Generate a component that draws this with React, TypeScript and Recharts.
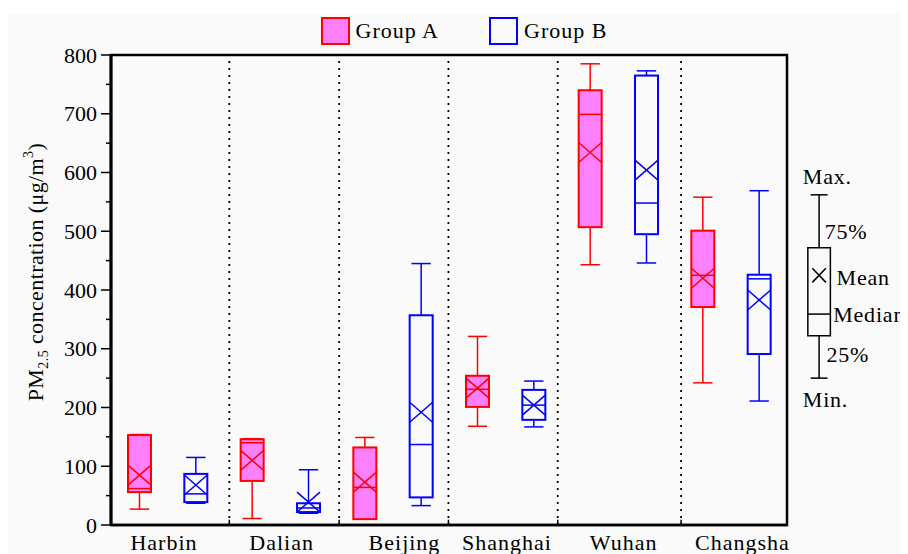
import { ComposedChart, Bar, XAxis, YAxis, ReferenceLine, ReferenceArea, ReferenceDot, Legend } from "recharts";

const cities = ["Harbin", "Dalian", "Beijing", "Shanghai", "Wuhan", "Changsha"];

// Group A (filled boxes)
const groupAMin = [27, 11, 10, 168, 443, 242];
const groupAQ1 = [56, 75, 10, 201, 507, 371];
const groupAMedian = [62, 140, 64, 231, 699, 425];
const groupAQ3 = [153, 146, 132, 254, 740, 501];
const groupAMax = [154, 147, 149, 321, 785, 558];
const groupAMean = [85, 110, 73, 233, 634, 420];

// Group B (open boxes)
const groupBMin = [37, 20, 33, 167, 446, 211];
const groupBQ1 = [39, 22, 47, 179, 495, 291];
const groupBMedian = [53, 29, 137, 204, 548, 419];
const groupBQ3 = [87, 37, 357, 230, 765, 426];
const groupBMax = [115, 94, 445, 245, 773, 569];
const groupBMean = [68, 39, 192, 204, 604, 383];

const groupNames = ["Group A", "Group B"];
const yTicks = [0, 50, 100, 150, 200, 250, 300, 350, 400, 450, 500, 550, 600, 650, 700, 750, 800];
const dividerPositions = [2.6, 4.55, 6.49, 8.43, 10.62];
const cityLabelPositions = [1.44, 3.53, 5.71, 7.53, 9.6, 11.71];

// explanatory key on the right
const keyValues = { min: 250, q1: 322, median: 359, q3: 472, max: 562, mean: 425 };

const FONT = "'Liberation Serif', 'Times New Roman', serif";
const A_STROKE = "#ff0000";
const A_FILL = "#ff80ff";
const B_STROKE = "#0000ff";

const data = cities.flatMap((city, i) => [
  {
    pos: i * 2 + 1,
    group: "A",
    range: [groupAMin[i], groupAMax[i]],
    min: groupAMin[i],
    q1: groupAQ1[i],
    median: groupAMedian[i],
    q3: groupAQ3[i],
    max: groupAMax[i],
    mean: groupAMean[i],
  },
  {
    pos: i * 2 + 2,
    group: "B",
    range: [groupBMin[i], groupBMax[i]],
    min: groupBMin[i],
    q1: groupBQ1[i],
    median: groupBMedian[i],
    q3: groupBQ3[i],
    max: groupBMax[i],
    mean: groupBMean[i],
  },
]);

function BoxShape(props: any) {
  const { x, width, payload } = props;
  let { y, height } = props;
  if (height < 0) {
    y = y + height;
    height = -height;
  }
  const { min, max, q1, median, q3, mean, group } = payload;
  const toY = (v: number) => (max === min ? y : y + ((max - v) / (max - min)) * height);
  const color = group === "A" ? A_STROKE : B_STROKE;
  const fill = group === "A" ? A_FILL : "none";
  const cx = x + width / 2;
  const cap = width * 0.42;
  const yMax = toY(max);
  const yMin = toY(min);
  const yQ1 = toY(q1);
  const yQ3 = toY(q3);
  const yMed = toY(median);
  const yMean = toY(mean);
  const xh = 10;
  return (
    <g>
      <line x1={cx} x2={cx} y1={yMax} y2={yQ3} stroke={color} strokeWidth={1.5} />
      <line x1={cx} x2={cx} y1={yQ1} y2={yMin} stroke={color} strokeWidth={1.5} />
      <line x1={cx - cap} x2={cx + cap} y1={yMax} y2={yMax} stroke={color} strokeWidth={1.5} />
      <line x1={cx - cap} x2={cx + cap} y1={yMin} y2={yMin} stroke={color} strokeWidth={1.5} />
      <rect x={x} y={yQ3} width={width} height={Math.max(yQ1 - yQ3, 0.5)} fill={fill} stroke={color} strokeWidth={2} />
      <line x1={x} x2={x + width} y1={yMed} y2={yMed} stroke={color} strokeWidth={1.5} />
      <line x1={x} x2={x + width} y1={yMean - xh} y2={yMean + xh} stroke={color} strokeWidth={1.5} />
      <line x1={x} x2={x + width} y1={yMean + xh} y2={yMean - xh} stroke={color} strokeWidth={1.5} />
    </g>
  );
}

function YTick(props: any) {
  const { x, y, payload } = props;
  const major = payload.value % 100 === 0;
  return (
    <g>
      <line x1={major ? x + 4 : x + 9} x2={x + 14} y1={y} y2={y} stroke="#000" strokeWidth={1.5} />
      {major && (
        <text x={x} y={y} dy="0.35em" textAnchor="end" fontFamily={FONT} fontSize={22} fill="#000">
          {payload.value}
        </text>
      )}
    </g>
  );
}

function YLabel(props: any) {
  const vb = props.viewBox || { x: 10, y: 42, width: 93, height: 470 };
  const cx = vb.x + 25;
  const cy = vb.y + vb.height / 2 - 18;
  return (
    <text x={cx} y={cy} transform={`rotate(-90, ${cx}, ${cy})`} textAnchor="middle" fontFamily={FONT} fontSize={22} fill="#000" letterSpacing={0.4}>
      PM
      <tspan fontSize={14} dy={5}>2.5</tspan>
      <tspan dy={-5}>{"  concentration (μg/m"}</tspan>
      <tspan fontSize={14} dy={-10}>3</tspan>
      <tspan dy={10}>)</tspan>
    </text>
  );
}

function LegendContent() {
  return (
    <div style={{ display: "flex", justifyContent: "center", gap: 50, height: 30, paddingLeft: 12, fontFamily: FONT, fontSize: 22, letterSpacing: 1, color: "#000" }}>
      {groupNames.map((name, i) => (
        <div key={name} style={{ display: "flex", alignItems: "center", gap: 6 }}>
          <span
            style={{
              display: "inline-block",
              boxSizing: "border-box",
              width: 29,
              height: 28,
              border: `2px solid ${i === 0 ? A_STROKE : B_STROKE}`,
              background: i === 0 ? A_FILL : "transparent",
            }}
          />
          <span>{name}</span>
        </div>
      ))}
    </div>
  );
}

const keyX = 13.07;
const keyLabels = [
  { text: "Max.", x: 12.78, y: 594 },
  { text: "75%", x: 13.17, y: 499 },
  { text: "Mean", x: 13.38, y: 422 },
  { text: "Median", x: 13.32, y: 359 },
  { text: "25%", x: 13.2, y: 291 },
  { text: "Min.", x: 12.78, y: 213 },
];

function keyLabel(text: string) {
  return (p: any) => {
    const vb = p.viewBox || {};
    return (
      <text x={vb.x} y={vb.y} dominantBaseline="central" fontFamily={FONT} fontSize={22} letterSpacing={0.8} fill="#000">
        {text}
      </text>
    );
  };
}

export default function App() {
  const k = keyValues;
  const keySegments = [
    [[keyX, k.q3], [keyX, k.max]],
    [[keyX, k.min], [keyX, k.q1]],
    [[keyX - 0.15, k.max], [keyX + 0.15, k.max]],
    [[keyX - 0.15, k.min], [keyX + 0.15, k.min]],
    [[keyX - 0.2, k.median], [keyX + 0.2, k.median]],
    [[keyX - 0.12, k.mean + 12], [keyX + 0.12, k.mean - 12]],
    [[keyX - 0.12, k.mean - 12], [keyX + 0.12, k.mean + 12]],
  ];
  return (
    <div style={{ marginTop: 5, width: 900, height: 541, background: "#fafafa" }}>
      <ComposedChart width={900} height={541} data={data} margin={{ top: 12, right: 121, bottom: 0, left: 10 }}>
        <Legend verticalAlign="top" align="center" content={<LegendContent />} wrapperStyle={{ top: 3, left: 0, width: 900 }} />
        <XAxis
          dataKey="pos"
          type="number"
          domain={[0.5, 12.5]}
          allowDataOverflow
          ticks={cityLabelPositions}
          interval={0}
          tickFormatter={(v: number) => cities[cityLabelPositions.indexOf(v)] ?? ""}
          tickLine={false}
          tickSize={0}
          tickMargin={9}
          height={29}
          axisLine={{ stroke: "#000", strokeWidth: 2.5 }}
          tick={{ fill: "#000", fontSize: 22, fontFamily: FONT, letterSpacing: 1 }}
        />
        <YAxis
          type="number"
          domain={[0, 800]}
          ticks={yTicks}
          interval={0}
          width={93}
          tickSize={10}
          tickMargin={4}
          tickLine={false}
          tick={<YTick />}
          axisLine={{ stroke: "#000", strokeWidth: 3 }}
          label={<YLabel />}
        />
        <ReferenceArea x1={0.5} x2={12.5} y1={0} y2={800} fill="none" stroke="#000" strokeWidth={2.5} ifOverflow="visible" />
        {dividerPositions.map((d) => (
          <ReferenceLine key={"d" + d} x={d} stroke="#000" strokeWidth={1.8} strokeDasharray="2 5" />
        ))}
        {dividerPositions.map((d) => (
          <ReferenceLine key={"t" + d} segment={[{ x: d, y: 0 }, { x: d, y: 9 }]} stroke="#000" strokeWidth={1.5} />
        ))}
        <Bar dataKey="range" barSize={23} shape={<BoxShape />} isAnimationActive={false} />
        <ReferenceArea
          x1={keyX - 0.2}
          x2={keyX + 0.2}
          y1={k.q1}
          y2={k.q3}
          fill="none"
          stroke="#000"
          strokeWidth={1.5}
          ifOverflow="visible"
        />
        {keySegments.map((s, i) => (
          <ReferenceLine
            key={"k" + i}
            segment={[{ x: s[0][0], y: s[0][1] }, { x: s[1][0], y: s[1][1] }]}
            stroke="#000"
            strokeWidth={1.5}
            ifOverflow="visible"
          />
        ))}
        {keyLabels.map((l) => (
          <ReferenceDot
            key={l.text}
            x={l.x}
            y={l.y}
            r={0}
            stroke="none"
            fill="none"
            ifOverflow="visible"
            label={{ content: keyLabel(l.text) }}
          />
        ))}
      </ComposedChart>
    </div>
  );
}
